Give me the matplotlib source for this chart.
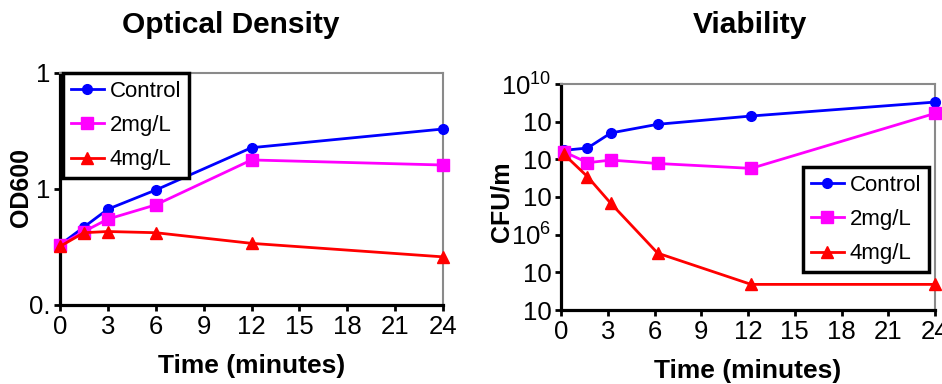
import matplotlib
matplotlib.use("Agg")
import matplotlib.pyplot as plt
from matplotlib.ticker import FixedLocator, FixedFormatter, NullLocator

plt.rcParams['font.family'] = ['Liberation Sans', 'DejaVu Sans']
plt.rcParams['mathtext.fontset'] = 'custom'
plt.rcParams['mathtext.rm'] = 'Liberation Sans'
plt.rcParams['mathtext.it'] = 'Liberation Sans'

# ---- data ----
series_names = ["Control", "2mg/L", "4mg/L"]
time_od = [0, 1.5, 3, 6, 12, 24]
od_control = [0.33, 0.47, 0.67, 0.98, 2.27, 3.29]
od_2mg = [0.33, 0.43, 0.55, 0.73, 1.78, 1.61]
od_4mg = [0.32, 0.42, 0.43, 0.42, 0.34, 0.26]

time_cfu = [0.2, 1.7, 3.2, 6.2, 12.2, 24]
cfu_control = [10**8.24, 10**8.30, 10**8.70, 10**8.93, 10**9.15, 10**9.52]
cfu_2mg = [10**8.20, 10**7.91, 10**7.98, 10**7.89, 10**7.76, 10**9.22]
cfu_4mg = [10**8.13, 10**7.54, 10**6.83, 10**5.51, 10**4.68, 10**4.68]

x_ticks = [0, 3, 6, 9, 12, 15, 18, 21, 24]
od_ticks = [0.1, 1, 10]
od_tick_labels = ["0.", "1", "1"]
cfu_ticks = [1e4, 1e5, 1e6, 1e7, 1e8, 1e9, 1e10]
cfu_tick_labels = ["10", "10", "$10^{6}$", "10", "10", "10", "$10^{10}$"]

titles = ["Optical Density", "Viability"]
x_label = "Time (minutes)"
y_labels = ["OD600", "CFU/m"]

colors = ["#0000FF", "#FF00FF", "#FF0000"]
markers = ["o", "s", "^"]
msizes = [7, 9, 8]

W, H = 942, 384
fig = plt.figure(figsize=(W / 100, H / 100), dpi=100)

def frac(x0, y0, x1, y1):
    return [x0 / W, 1 - y1 / H, (x1 - x0) / W, (y1 - y0) / H]

ax1 = fig.add_axes(frac(60, 73, 443, 305))
ax2 = fig.add_axes(frac(561, 84, 935, 310))

def style(ax):
    for s in ["left", "bottom"]:
        ax.spines[s].set_linewidth(2.3)
        ax.spines[s].set_color("black")
    for s in ["top", "right"]:
        ax.spines[s].set_linewidth(1.5)
        ax.spines[s].set_color("#8a8a8a")
    ax.tick_params(axis="both", direction="out", length=4, width=2,
                   labelsize=18.5, pad=3)
    ax.set_xlim(0, 24)
    ax.xaxis.set_major_locator(FixedLocator(x_ticks))
    ax.set_xlabel(x_label, fontsize=19, fontweight="bold", labelpad=11)

# left panel
for name, ys, c, m, ms in zip(series_names, [od_control, od_2mg, od_4mg], colors, markers, msizes):
    ax1.plot(time_od, ys, color=c, marker=m, markersize=ms, linewidth=2,
             label=name, clip_on=False, zorder=3)
ax1.set_yscale("log")
ax1.set_ylim(0.1, 10)
ax1.yaxis.set_major_locator(FixedLocator(od_ticks))
ax1.yaxis.set_major_formatter(FixedFormatter(od_tick_labels))
ax1.yaxis.set_minor_locator(NullLocator())
style(ax1)
ax1.set_ylabel(y_labels[0], fontsize=18, fontweight="bold")
ax1.yaxis.set_label_coords(33 / W, 1 - 187 / H, transform=fig.transFigure)

# right panel
for name, ys, c, m, ms in zip(series_names, [cfu_control, cfu_2mg, cfu_4mg], colors, markers, msizes):
    ax2.plot(time_cfu, ys, color=c, marker=m, markersize=ms, linewidth=2,
             label=name, clip_on=False, zorder=3)
ax2.set_yscale("log")
ax2.set_ylim(1e4, 1e10)
ax2.yaxis.set_major_locator(FixedLocator(cfu_ticks))
ax2.yaxis.set_major_formatter(FixedFormatter(cfu_tick_labels))
ax2.yaxis.set_minor_locator(NullLocator())
style(ax2)
ax2.set_ylabel(y_labels[1], fontsize=18, fontweight="bold")
ax2.yaxis.set_label_coords(513 / W, 1 - 202 / H, transform=fig.transFigure)

fig.text(231 / W, 1 - 25 / H, titles[0], fontsize=21.5, fontweight="bold",
         ha="center", va="center")
fig.text(750 / W, 1 - 25 / H, titles[1], fontsize=21.5, fontweight="bold",
         ha="center", va="center")

def legend(ax, x, y):
    lg = ax.legend(loc="upper left", bbox_to_anchor=(x / W, 1 - y / H),
                   bbox_transform=fig.transFigure, fontsize=16, frameon=True,
                   fancybox=False, handlelength=1.5, handletextpad=0.25,
                   borderpad=0.35, labelspacing=0.6, borderaxespad=0)
    fr = lg.get_frame()
    fr.set_edgecolor("black")
    fr.set_linewidth(2.5)
    fr.set_alpha(1)
    lg.set_zorder(5)
    return lg

legend(ax1, 63, 73)
legend(ax2, 803, 167)

fig.savefig("out.png", dpi=100)
